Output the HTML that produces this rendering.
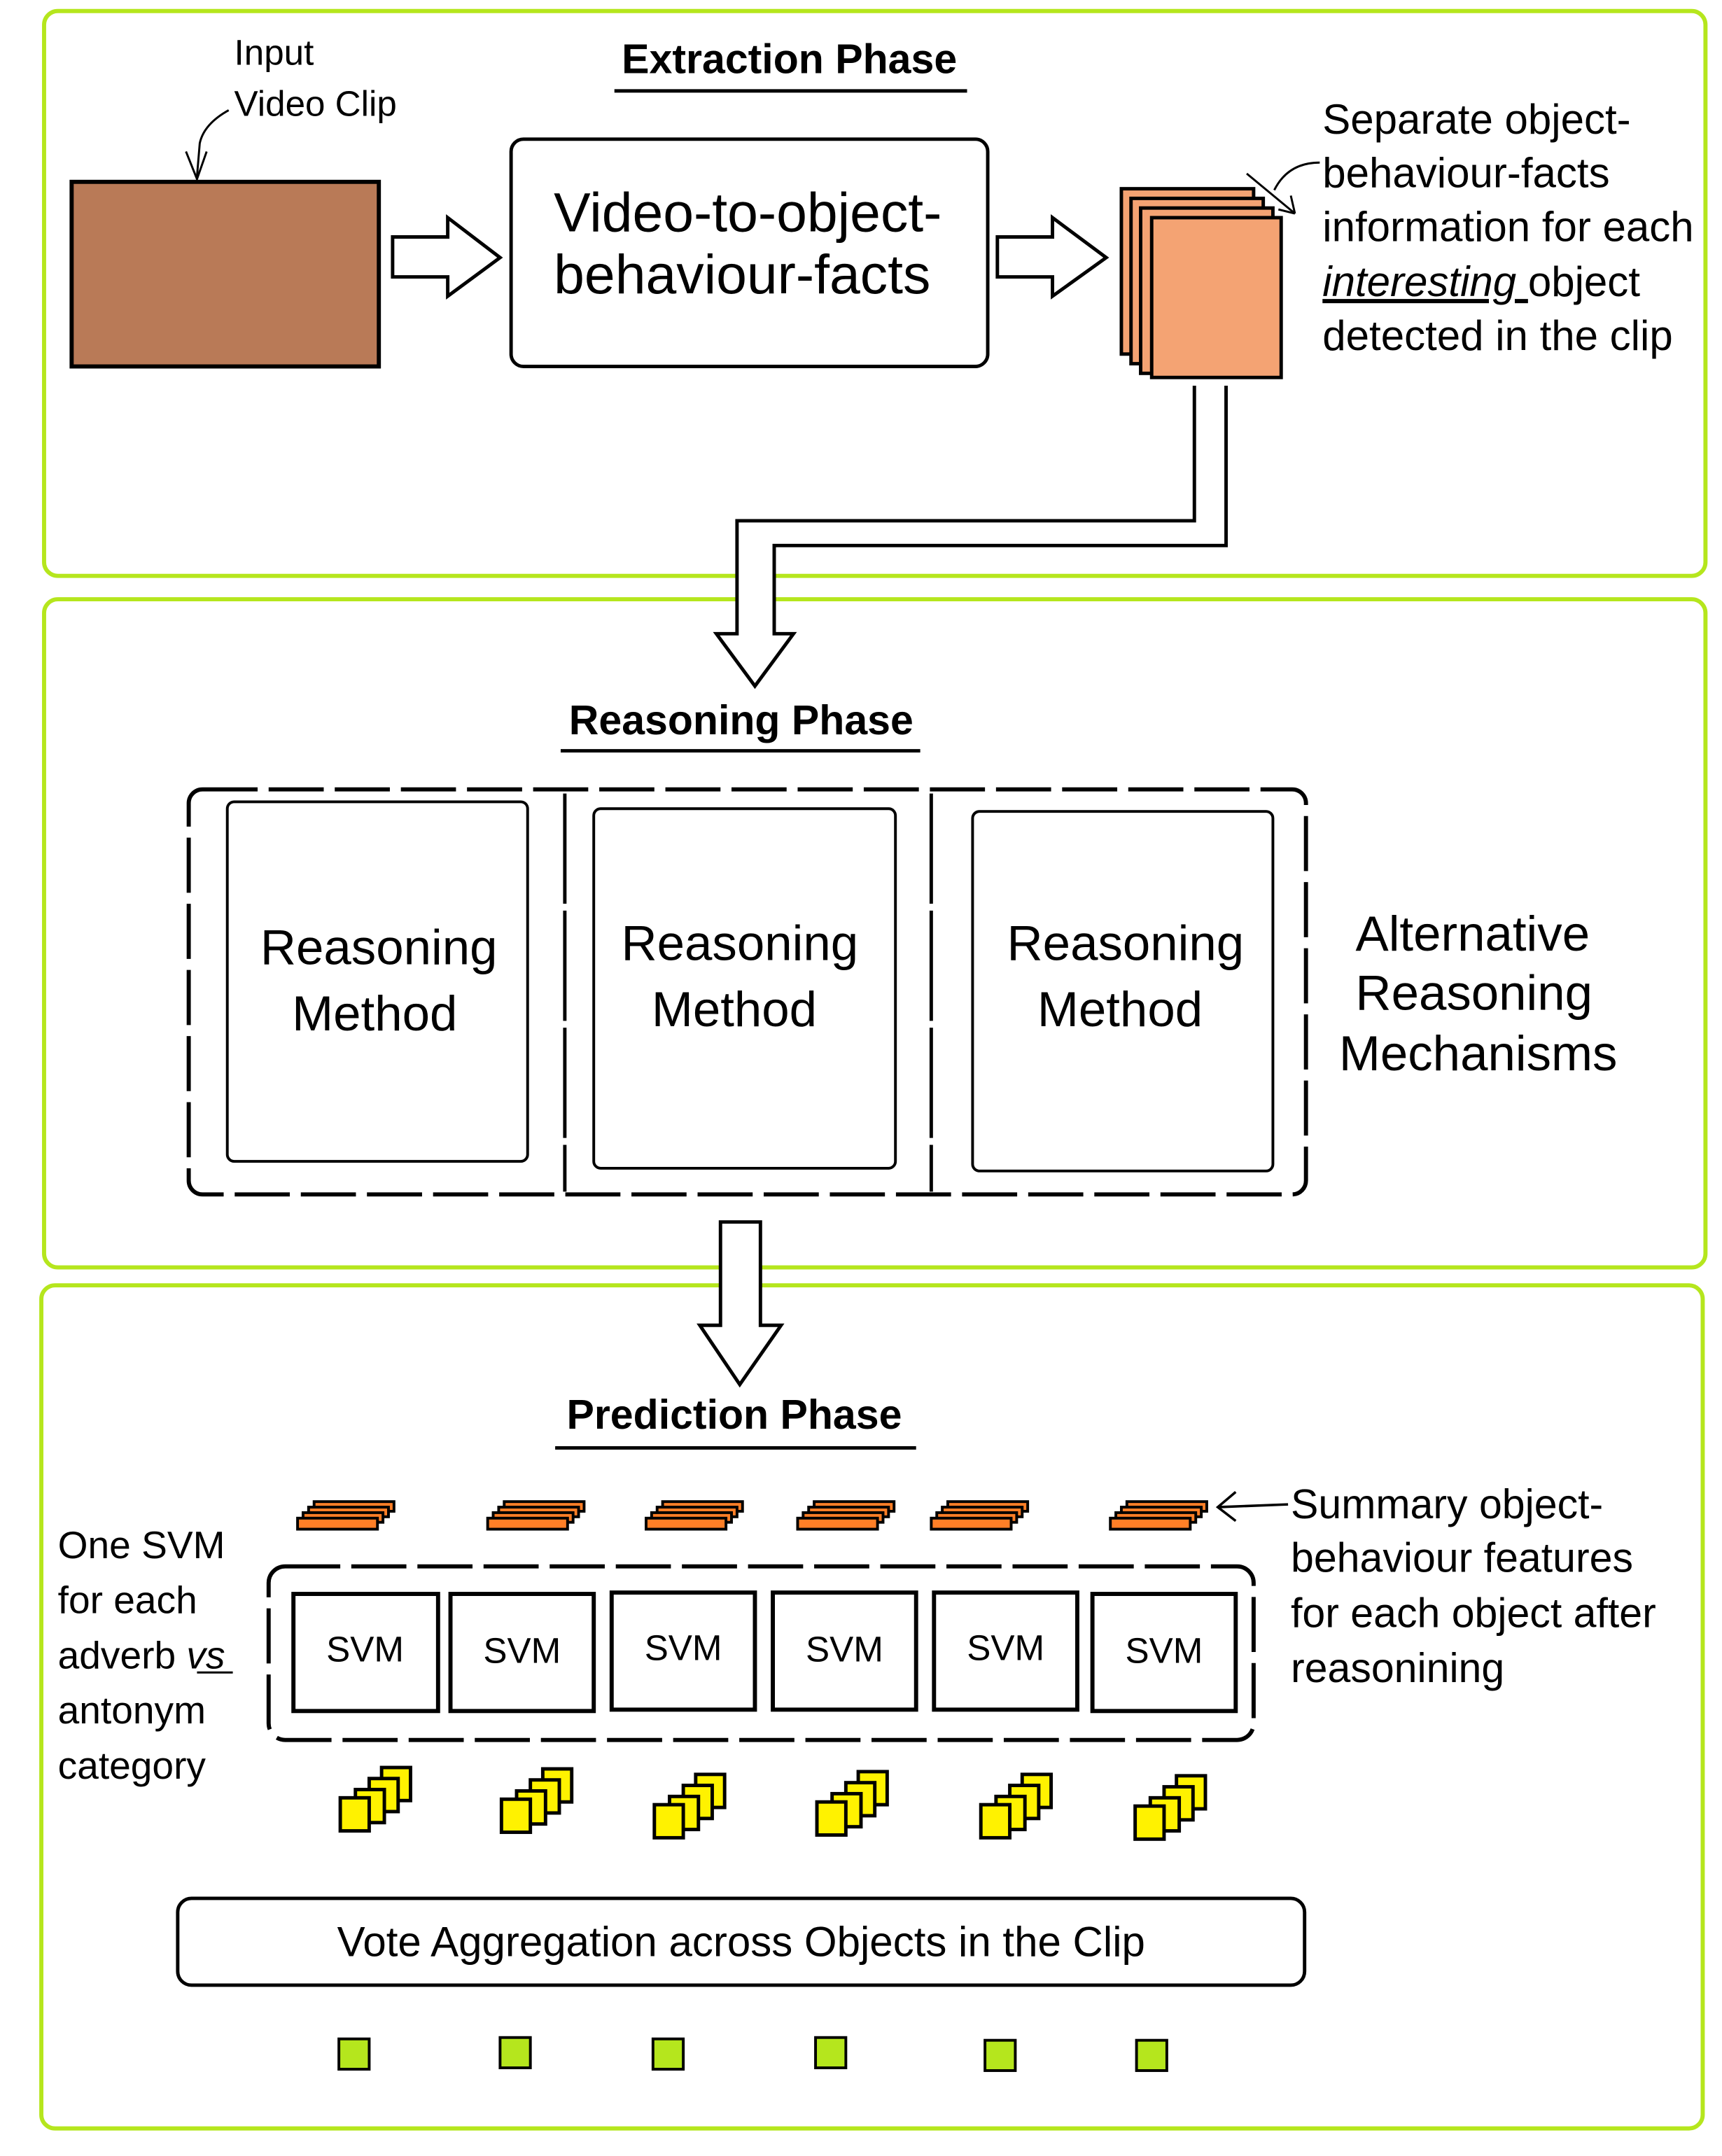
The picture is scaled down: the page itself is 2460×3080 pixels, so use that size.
<!DOCTYPE html>
<html><head><meta charset="utf-8"><style>
html,body{margin:0;padding:0;background:#fff;}
svg{display:block;}
text{font-family:"Liberation Sans",sans-serif;fill:#000;}
</style></head><body>
<svg width="2460" height="3080" viewBox="0 0 1250 1565" preserveAspectRatio="none" xmlns="http://www.w3.org/2000/svg">
<g fill="none" stroke="#b5e61d" stroke-width="3">
<rect x="32" y="8" width="1206" height="410" rx="10"/>
<rect x="32" y="435" width="1206" height="485" rx="10"/>
<rect x="30" y="933" width="1206" height="612" rx="10"/>
</g>
<!-- Extraction -->
<text x="573" y="53" font-size="30" font-weight="bold" text-anchor="middle">Extraction Phase</text>
<line x1="446" y1="66" x2="702" y2="66" stroke="#000" stroke-width="2.5"/>
<text x="170" y="47" font-size="26">Input</text>
<text x="170" y="84" font-size="26">Video Clip</text>
<path d="M166 80 Q148 90 145 104 L143 128" fill="none" stroke="#000" stroke-width="1.5"/>
<path d="M135 110 L143 130 L150 110" fill="none" stroke="#000" stroke-width="1.5"/>
<rect x="52" y="132" width="223" height="134" fill="#b97a57" stroke="#000" stroke-width="3"/>
<path d="M285 172 L325 172 L325 158 L363 187 L325 215 L325 201 L285 201 Z" fill="#fff" stroke="#000" stroke-width="2.5"/>
<rect x="371" y="101" width="346" height="165" rx="9" fill="#fff" stroke="#000" stroke-width="2.5"/>
<text x="402" y="168" font-size="40">Video-to-object-</text>
<text x="402" y="213" font-size="40">behaviour-facts</text>
<path d="M724 172 L764 172 L764 158 L803 187 L764 215 L764 201 L724 201 Z" fill="#fff" stroke="#000" stroke-width="2.5"/>
<g stroke="#000" stroke-width="2.5" fill="#f4a373">
<rect x="814" y="137" width="96" height="120"/>
<rect x="821" y="144" width="96" height="120"/>
<rect x="828" y="151" width="96" height="120"/>
<rect x="836" y="158" width="94" height="116"/>
</g>
<path d="M958 118 Q935 118 925 138" fill="none" stroke="#000" stroke-width="1.5"/>
<path d="M905 126 L940 155 M940 155 L937 142 M940 155 L928 152" fill="none" stroke="#000" stroke-width="1.5"/>
<g font-size="30.5">
<text x="960" y="97">Separate object-</text>
<text x="960" y="136">behaviour-facts</text>
<text x="960" y="175">information for each</text>
<text x="960" y="215"><tspan font-style="italic" text-decoration="underline">interesting </tspan>object</text>
<text x="960" y="254">detected in the clip</text>
</g>
<path d="M867 280 L867 378 L535 378 L535 460 L520 460 L548 498 L576 460 L562 460 L562 396 L890 396 L890 280" fill="#fff" stroke="#000" stroke-width="2.5"/>
<!-- Reasoning -->
<text x="538" y="533" font-size="30" font-weight="bold" text-anchor="middle">Reasoning Phase</text>
<line x1="407" y1="545" x2="668" y2="545" stroke="#000" stroke-width="2.5"/>
<rect x="137" y="573" width="811" height="294" rx="10" fill="none" stroke="#000" stroke-width="3" stroke-dasharray="40,8"/>
<line x1="410" y1="576" x2="410" y2="865" stroke="#000" stroke-width="2.5" stroke-dasharray="80,5"/>
<line x1="676" y1="576" x2="676" y2="865" stroke="#000" stroke-width="2.5" stroke-dasharray="80,5"/>
<g fill="#fff" stroke="#000" stroke-width="2">
<rect x="165" y="582" width="218" height="261" rx="5"/>
<rect x="431" y="587" width="219" height="261" rx="5"/>
<rect x="706" y="589" width="218" height="261" rx="5"/>
</g>
<g font-size="36" text-anchor="middle">
<text x="275" y="700">Reasoning</text><text x="272" y="748">Method</text>
<text x="537" y="697">Reasoning</text><text x="533" y="745">Method</text>
<text x="817" y="697">Reasoning</text><text x="813" y="745">Method</text>
</g>
<g font-size="36" text-anchor="middle">
<text x="1069" y="690">Alternative</text>
<text x="1070" y="733">Reasoning</text>
<text x="1073" y="777">Mechanisms</text>
</g>
<path d="M523 887 L552 887 L552 962 L567 962 L537 1005 L508 962 L523 962 Z" fill="#fff" stroke="#000" stroke-width="2.5"/>
<!-- Prediction -->
<text x="533" y="1037" font-size="30" font-weight="bold" text-anchor="middle">Prediction Phase</text>
<line x1="403" y1="1051" x2="665" y2="1051" stroke="#000" stroke-width="2.5"/>
<g stroke="#000" stroke-width="2" fill="#ff7f27">
<g id="os"><rect x="228" y="1090" width="58" height="7"/><rect x="224" y="1094" width="58" height="7"/><rect x="220" y="1098" width="58" height="7"/><rect x="216" y="1102" width="58" height="8"/></g>
<use href="#os" x="138"/><use href="#os" x="253"/><use href="#os" x="363"/><use href="#os" x="460"/><use href="#os" x="590"/>
</g>
<path d="M935 1092 L884 1094 M897 1083 L884 1094 L897 1104" fill="none" stroke="#000" stroke-width="1.8"/>
<g font-size="30">
<text x="937" y="1102">Summary object-</text>
<text x="937" y="1141">behaviour features</text>
<text x="937" y="1181">for each object after</text>
<text x="937" y="1221">reasonining</text>
</g>
<g font-size="28">
<text x="42" y="1131">One SVM</text>
<text x="42" y="1171">for each</text>
<text x="42" y="1211">adverb <tspan font-style="italic">vs</tspan></text>
<text x="42" y="1251">antonym</text>
<text x="42" y="1291">category</text>
</g>
<line x1="143" y1="1214" x2="169" y2="1214" stroke="#000" stroke-width="1.5"/>
<rect x="195" y="1137" width="715" height="126" rx="12" fill="none" stroke="#000" stroke-width="3" stroke-dasharray="40,8"/>
<g fill="#fff" stroke="#000" stroke-width="3">
<rect x="213" y="1157" width="105" height="85"/><rect x="327" y="1157" width="104" height="85"/>
<rect x="444" y="1156" width="104" height="85"/><rect x="561" y="1156" width="104" height="85"/>
<rect x="678" y="1156" width="104" height="85"/><rect x="793" y="1157" width="104" height="85"/>
</g>
<g font-size="26" text-anchor="middle">
<text x="265" y="1206">SVM</text><text x="379" y="1207">SVM</text><text x="496" y="1205">SVM</text>
<text x="613" y="1206">SVM</text><text x="730" y="1205">SVM</text><text x="845" y="1207">SVM</text>
</g>
<g stroke="#000" stroke-width="2.5" fill="#fff200">
<g id="ys"><rect x="277" y="1283" width="21" height="24"/><rect x="268" y="1291" width="21" height="24"/><rect x="258" y="1299" width="21" height="24"/><rect x="247" y="1305" width="21" height="24"/></g>
<use href="#ys" x="117" y="1"/><use href="#ys" x="228" y="5"/><use href="#ys" x="346" y="3"/><use href="#ys" x="465" y="5"/><use href="#ys" x="577" y="6"/>
</g>
<rect x="129" y="1378" width="818" height="63" rx="10" fill="#fff" stroke="#000" stroke-width="2.5"/>
<text x="538" y="1420" font-size="30.5" text-anchor="middle">Vote Aggregation across Objects in the Clip</text>
<g fill="#b5e61d" stroke="#000" stroke-width="2">
<rect x="246" y="1480" width="22" height="22"/><rect x="363" y="1479" width="22" height="22"/>
<rect x="474" y="1480" width="22" height="22"/><rect x="592" y="1479" width="22" height="22"/>
<rect x="715" y="1481" width="22" height="22"/><rect x="825" y="1481" width="22" height="22"/>
</g>
</svg>
</body></html>
